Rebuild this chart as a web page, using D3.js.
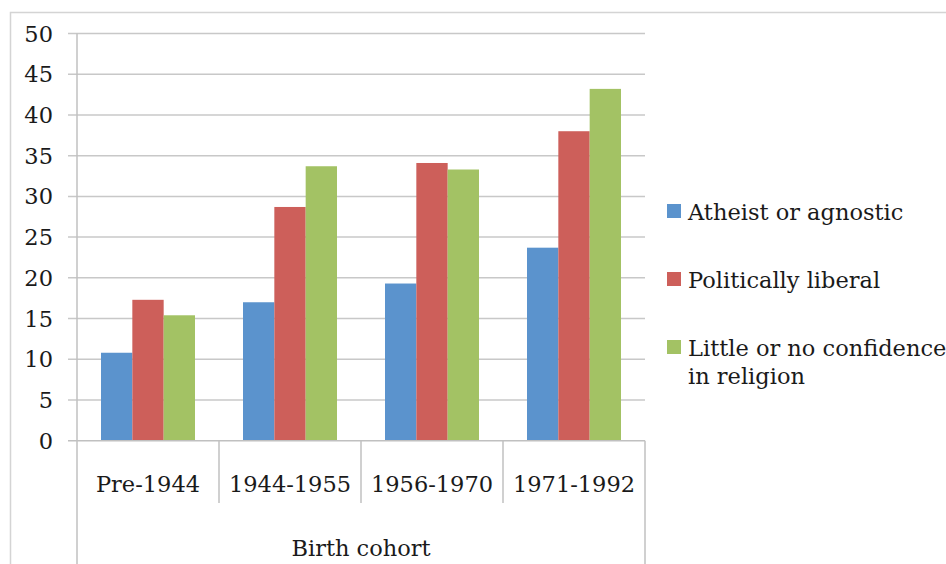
<!DOCTYPE html>
<html>
<head>
<meta charset="utf-8">
<script src="https://cdn.jsdelivr.net/npm/d3@7"></script>
<style>
  body { margin: 0; background: #fff; }
</style>
</head>
<body>
<svg id="chart"></svg>
<script>
const W = 946, H = 564;

// data
const cohorts = ['Pre-1944', '1944-1955', '1956-1970', '1971-1992'];
const seriesNames = ['Atheist or agnostic', 'Politically liberal', 'Little or no confidence in religion'];
const atheist = [10.8, 17.0, 19.3, 23.7];
const liberal = [17.3, 28.7, 34.1, 38.0];
const noConfidence = [15.4, 33.7, 33.3, 43.2];
const yTicks = [0, 5, 10, 15, 20, 25, 30, 35, 40, 45, 50];
const colors = ['#5B93CD', '#CD5F5A', '#A3C264'];

const values = [atheist, liberal, noConfidence];

const plot = {left: 77, right: 645, top: 33.5, bottom: 440.7};
const fontFam = "'DejaVu Serif', 'Liberation Serif', serif";
const fontSize = "22.5px";

const svg = d3.select("#chart")
    .attr("width", W)
    .attr("height", H)
    .attr("font-family", fontFam)
    .attr("fill", "#1a1a1a");

// outer frame (only top/left visible)
svg.append("rect")
    .attr("x", 10.5).attr("y", 12.5)
    .attr("width", 1000).attr("height", 1000)
    .attr("fill", "none")
    .attr("stroke", "#d4d4d4")
    .attr("stroke-width", 1.5);

const x0 = d3.scaleBand()
    .domain(cohorts)
    .range([plot.left, plot.right]);

// bars in a group take 94 of 142 px
const x1 = d3.scaleBand()
    .domain(d3.range(seriesNames.length))
    .range([24, x0.bandwidth() - 24]);

const y = d3.scaleLinear()
    .domain([0, 50])
    .range([plot.bottom, plot.top]);

// gridlines
svg.append("g")
    .selectAll("line")
    .data(yTicks.filter(d => d > 0))
    .join("line")
    .attr("x1", plot.left - 9)
    .attr("x2", plot.right)
    .attr("y1", d => y(d))
    .attr("y2", d => y(d))
    .attr("stroke", "#c8c8c8")
    .attr("stroke-width", 1.5);

// y tick labels
svg.append("g")
    .selectAll("text")
    .data(yTicks)
    .join("text")
    .attr("x", 53)
    .attr("y", d => y(d))
    .attr("dy", "0.36em")
    .attr("text-anchor", "end")
    .attr("font-size", fontSize)
    .text(d => d);

// bars
const groups = svg.append("g")
    .selectAll("g")
    .data(cohorts)
    .join("g")
    .attr("transform", d => `translate(${x0(d)},0)`);

groups.selectAll("rect")
    .data((d, i) => values.map((s, k) => ({k: k, v: s[i]})))
    .join("rect")
    .attr("x", d => x1(d.k))
    .attr("width", x1.bandwidth())
    .attr("y", d => y(d.v))
    .attr("height", d => y(0) - y(d.v))
    .attr("fill", d => colors[d.k]);

// axes lines
const axisCol = "#c0c0c0";
svg.append("line")
    .attr("x1", plot.left - 9).attr("x2", plot.right)
    .attr("y1", plot.bottom).attr("y2", plot.bottom)
    .attr("stroke", axisCol).attr("stroke-width", 1.5);
svg.append("line")
    .attr("x1", plot.left).attr("x2", plot.left)
    .attr("y1", plot.top).attr("y2", H)
    .attr("stroke", axisCol).attr("stroke-width", 1.5);
svg.append("line")
    .attr("x1", plot.right).attr("x2", plot.right)
    .attr("y1", plot.bottom).attr("y2", H)
    .attr("stroke", axisCol).attr("stroke-width", 1.5);

// category dividers
svg.append("g")
    .selectAll("line")
    .data(cohorts.slice(1))
    .join("line")
    .attr("x1", d => x0(d)).attr("x2", d => x0(d))
    .attr("y1", plot.bottom).attr("y2", 503)
    .attr("stroke", axisCol).attr("stroke-width", 1.5);

// category labels
svg.append("g")
    .selectAll("text")
    .data(cohorts)
    .join("text")
    .attr("x", d => x0(d) + x0.bandwidth() / 2)
    .attr("y", 484)
    .attr("dy", "0.36em")
    .attr("text-anchor", "middle")
    .attr("font-size", fontSize)
    .text(d => d);

svg.append("text")
    .attr("x", (plot.left + plot.right) / 2)
    .attr("y", 548)
    .attr("dy", "0.36em")
    .attr("text-anchor", "middle")
    .attr("font-size", fontSize)
    .text("Birth cohort");

// legend
const legendY = [212, 280, 348];
const legend = svg.append("g");
seriesNames.forEach((name, i) => {
    legend.append("rect")
        .attr("x", 667).attr("y", legendY[i] - 8)
        .attr("width", 14).attr("height", 14)
        .attr("fill", colors[i]);
    const t = legend.append("text")
        .attr("x", 688)
        .attr("y", legendY[i])
        .attr("dy", "0.36em")
        .attr("font-size", fontSize);
    if (i === 2) {
        t.text("Little or no confidence");
        legend.append("text")
            .attr("x", 688).attr("y", legendY[i] + 28)
            .attr("dy", "0.36em")
            .attr("font-size", fontSize)
            .text("in religion");
    } else {
        t.text(name);
    }
});
</script>
</body>
</html>
